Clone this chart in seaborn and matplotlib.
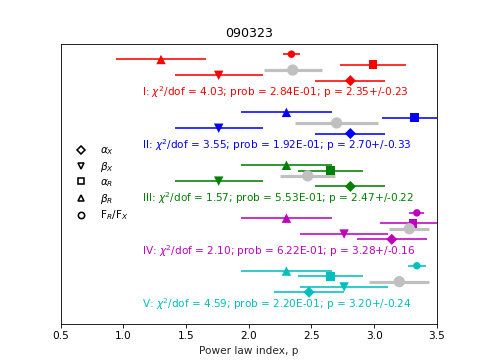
import numpy as np
import pandas as pd
import seaborn as sns
import matplotlib
matplotlib.use("Agg")
import matplotlib.pyplot as plt
from matplotlib.lines import Line2D

sns.set_style("ticks", {"axes.edgecolor": "black", "text.color": "black",
                        "xtick.color": "black", "ytick.color": "black"})
plt.rcParams['font.family'] = ['DejaVu Sans']

# fit groups
groups = ['I', 'II', 'III', 'IV', 'V']
group_colors = ['r', 'b', 'g', 'm', 'c']
chi2_dof = [4.03, 3.55, 1.57, 2.10, 4.59]
prob = [2.84e-01, 1.92e-01, 5.53e-01, 6.22e-01, 2.20e-01]

# power law index per quantity (nan = not shown)
ratio = [2.34, np.nan, np.nan, 3.34, 3.34]        # F_R/F_X
ratio_err = [0.065, np.nan, np.nan, 0.06, 0.07]
beta_R = [1.30, 2.30, 2.30, 2.30, 2.30]
beta_R_err = [0.36, 0.36, 0.36, 0.36, 0.36]
alpha_R = [2.99, 3.32, 2.65, 3.31, 2.65]
alpha_R_err = [0.26, 0.26, 0.26, 0.26, 0.26]
fit_p = [2.35, 2.70, 2.47, 3.28, 3.20]
fit_err = [0.23, 0.33, 0.22, 0.16, 0.24]
beta_X = [1.76, 1.76, 1.76, 2.76, 2.76]
beta_X_err = [0.35, 0.35, 0.35, 0.35, 0.35]
alpha_X = [2.81, 2.81, 2.81, 3.14, 2.48]
alpha_X_err = [0.28, 0.28, 0.28, 0.28, 0.28]

quantities = ['ratio', 'beta_R', 'alpha_R', 'fit', 'beta_X', 'alpha_X']
values = [ratio, beta_R, alpha_R, fit_p, beta_X, alpha_X]
errors = [ratio_err, beta_R_err, alpha_R_err, fit_err, beta_X_err, alpha_X_err]

markers = {'ratio': 'o', 'beta_R': '^', 'alpha_R': 's', 'fit': 'o',
           'beta_X': 'v', 'alpha_X': 'D'}
sizes = {'ratio': 50, 'beta_R': 80, 'alpha_R': 70, 'fit': 115,
         'beta_X': 80, 'alpha_X': 55}

rows = []
for g, name in enumerate(groups):
    for r, q in enumerate(quantities):
        rows.append({'group': name, 'qty': q, 'p': values[r][g],
                     'err': errors[r][g], 'y': 2 + 10 * g + r})
df = pd.DataFrame(rows).dropna()

fig, ax = plt.subplots(figsize=(6.4, 4.8))

for g, name in enumerate(groups):
    col = group_colors[g]
    sub = df[df['group'] == name]
    pal = {q: (col if q != 'fit' else 'silver') for q in quantities}
    for _, row in sub.iterrows():
        ax.hlines(row['y'], row['p'] - row['err'], row['p'] + row['err'],
                  colors=pal[row['qty']],
                  linewidths=3 if row['qty'] == 'fit' else 1.5, zorder=2)
    sns.scatterplot(data=sub, x='p', y='y', hue='qty', palette=pal,
                    style='qty', markers=markers, size='qty', sizes=sizes,
                    linewidth=0, legend=False, ax=ax, zorder=3)
    label = (f"{name}: $\\chi^2$/dof = {chi2_dof[g]:.2f}; prob = {prob[g]:.2E}; "
             f"p = {fit_p[g]:.2f}+/-{fit_err[g]:.2f}")
    ax.text(1.15, 9.2 + 10 * g, label, color=col, fontsize=10, va='center')

handles = [
    Line2D([], [], ls='none', marker='D', ms=5, mfc='white', mec='black', mew=1.5),
    Line2D([], [], ls='none', marker='v', ms=6, mfc='white', mec='black', mew=1.5),
    Line2D([], [], ls='none', marker='s', ms=6, mfc='white', mec='black', mew=1.5),
    Line2D([], [], ls='none', marker='^', ms=6, mfc='white', mec='black', mew=1.5),
    Line2D([], [], ls='none', marker='o', ms=6, mfc='white', mec='black', mew=1.5),
]
labels = [r'$\alpha_X$', r'$\beta_X$', r'$\alpha_R$', r'$\beta_R$', r'F$_R$/F$_X$']
ax.legend(handles, labels, loc='center left', frameon=False, fontsize=10,
          labelspacing=0.27)

ax.set_xlim(0.5, 3.5)
ax.set_ylim(53, 0)
ax.set_xticks([0.5, 1.0, 1.5, 2.0, 2.5, 3.0, 3.5])
ax.set_yticks([])
ax.set_ylabel('')
ax.set_xlabel('Power law index, p', fontsize=10)
ax.tick_params(axis='x', labelsize=10)
ax.set_title('090323', fontsize=12)

fig.savefig('out.png', dpi=75.85)
